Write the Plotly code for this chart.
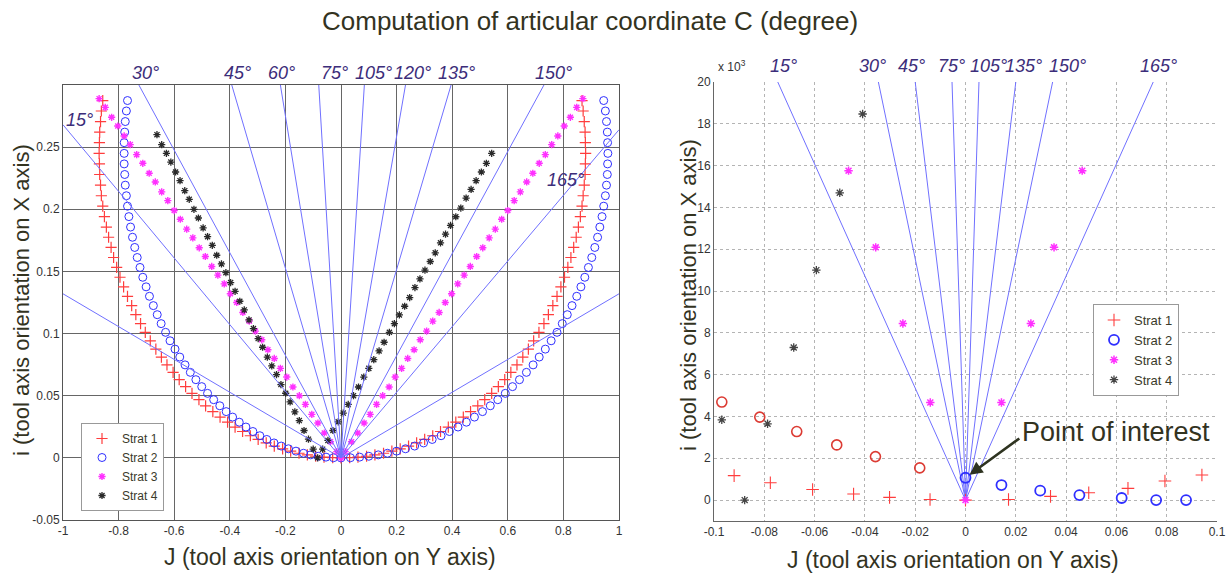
import math
import plotly.graph_objects as go

# ---------------- LEFT PANEL DATA (J, i) ----------------
# Strat 1 / Strat 2 curves: values read from centre outwards (shared i levels)
curve_i = [0.0001, 0.0006, 0.0013, 0.0024, 0.0037, 0.0054, 0.0073, 0.0095, 0.0120, 0.0148,
           0.0178, 0.0212, 0.0248, 0.0287, 0.0328, 0.0372, 0.0419, 0.0468, 0.0519, 0.0573,
           0.0629, 0.0688, 0.0748, 0.0811, 0.0875, 0.0942, 0.1010, 0.1080, 0.1152, 0.1225,
           0.1300, 0.1376, 0.1453, 0.1532, 0.1612, 0.1693, 0.1775, 0.1857, 0.1941, 0.2025,
           0.2109, 0.2194, 0.2280, 0.2365, 0.2450, 0.2536, 0.2621, 0.2706, 0.2791, 0.2875]
strat1_J_left = [-0.030, -0.061, -0.091, -0.121, -0.151, -0.181, -0.210, -0.240, -0.269, -0.298,
                 -0.326, -0.354, -0.381, -0.408, -0.435, -0.461, -0.487, -0.511, -0.536, -0.559,
                 -0.582, -0.604, -0.626, -0.646, -0.666, -0.686, -0.704, -0.721, -0.738, -0.753,
                 -0.768, -0.782, -0.795, -0.807, -0.818, -0.827, -0.836, -0.844, -0.851, -0.857,
                 -0.862, -0.865, -0.868, -0.869, -0.870, -0.869, -0.868, -0.865, -0.862, -0.857]
strat1_J_right = [0.031, 0.061, 0.092, 0.122, 0.153, 0.183, 0.213, 0.243, 0.272, 0.301,
                  0.330, 0.358, 0.386, 0.413, 0.440, 0.466, 0.492, 0.517, 0.542, 0.566,
                  0.589, 0.611, 0.633, 0.654, 0.674, 0.693, 0.712, 0.730, 0.746, 0.762,
                  0.777, 0.791, 0.804, 0.816, 0.827, 0.837, 0.846, 0.854, 0.861, 0.867,
                  0.871, 0.875, 0.878, 0.879, 0.880, 0.879, 0.878, 0.875, 0.871, 0.867]
strat2_J_left = [-0.027, -0.054, -0.082, -0.109, -0.135, -0.162, -0.189, -0.215, -0.241, -0.267,
                 -0.292, -0.317, -0.342, -0.366, -0.390, -0.413, -0.436, -0.458, -0.480, -0.501,
                 -0.522, -0.542, -0.561, -0.580, -0.597, -0.615, -0.631, -0.647, -0.661, -0.675,
                 -0.689, -0.701, -0.713, -0.723, -0.733, -0.742, -0.750, -0.757, -0.763, -0.768,
                 -0.772, -0.776, -0.778, -0.780, -0.780, -0.780, -0.778, -0.776, -0.772, -0.768]
strat2_J_right = [0.034, 0.067, 0.100, 0.134, 0.167, 0.200, 0.232, 0.265, 0.297, 0.328,
                  0.360, 0.390, 0.421, 0.451, 0.480, 0.509, 0.537, 0.564, 0.591, 0.617,
                  0.642, 0.667, 0.691, 0.713, 0.735, 0.756, 0.777, 0.796, 0.814, 0.831,
                  0.848, 0.863, 0.877, 0.890, 0.902, 0.913, 0.923, 0.931, 0.939, 0.945,
                  0.951, 0.955, 0.958, 0.959, 0.960, 0.959, 0.958, 0.955, 0.951, 0.945]

# Strat 3 (V from the origin)
strat3_J_left = [-0.015, -0.038, -0.060, -0.083, -0.105, -0.128, -0.150, -0.173, -0.195, -0.218,
                 -0.240, -0.263, -0.285, -0.308, -0.330, -0.353, -0.375, -0.398, -0.420, -0.443,
                 -0.465, -0.488, -0.510, -0.533, -0.555, -0.578, -0.600, -0.623, -0.645, -0.668,
                 -0.690, -0.713, -0.735, -0.758, -0.780, -0.803, -0.825, -0.848, -0.870]
strat3_J_right = [0.015, 0.038, 0.060, 0.083, 0.105, 0.128, 0.150, 0.173, 0.195, 0.218,
                  0.240, 0.263, 0.285, 0.308, 0.330, 0.353, 0.375, 0.398, 0.420, 0.443,
                  0.465, 0.488, 0.510, 0.533, 0.555, 0.578, 0.600, 0.623, 0.645, 0.668,
                  0.690, 0.713, 0.735, 0.758, 0.780, 0.803, 0.825, 0.848, 0.870]
strat3_i = [0.005, 0.013, 0.020, 0.028, 0.035, 0.043, 0.050, 0.057, 0.065, 0.072,
            0.080, 0.087, 0.095, 0.102, 0.110, 0.117, 0.125, 0.132, 0.140, 0.147,
            0.154, 0.162, 0.169, 0.177, 0.184, 0.192, 0.199, 0.207, 0.214, 0.222,
            0.229, 0.237, 0.244, 0.252, 0.259, 0.267, 0.274, 0.282, 0.289]

# Strat 4 (V from J = -0.084)
strat4_vertex = (-0.084, 0.0)
strat4_J_left = [-0.100, -0.117, -0.133, -0.150, -0.166, -0.183, -0.199, -0.216, -0.232, -0.249,
                 -0.265, -0.282, -0.298, -0.315, -0.331, -0.348, -0.364, -0.381, -0.397, -0.414,
                 -0.430, -0.447, -0.463, -0.480, -0.496, -0.513, -0.529, -0.546, -0.562, -0.579,
                 -0.595, -0.612, -0.628, -0.645, -0.662]
strat4_i_left = [0.007, 0.015, 0.022, 0.030, 0.037, 0.045, 0.052, 0.059, 0.067, 0.074,
                 0.081, 0.089, 0.096, 0.104, 0.111, 0.119, 0.126, 0.134, 0.141, 0.149,
                 0.156, 0.163, 0.171, 0.178, 0.185, 0.193, 0.200, 0.208, 0.215, 0.223,
                 0.230, 0.238, 0.245, 0.252, 0.260]
strat4_J_right = [-0.066, -0.047, -0.029, -0.010, 0.008, 0.026, 0.045, 0.063, 0.082, 0.100,
                  0.118, 0.137, 0.155, 0.174, 0.192, 0.210, 0.229, 0.247, 0.266, 0.284,
                  0.302, 0.321, 0.339, 0.358, 0.376, 0.394, 0.413, 0.431, 0.450, 0.468,
                  0.486, 0.505, 0.523, 0.542]
strat4_i_right = [0.007, 0.014, 0.022, 0.029, 0.036, 0.043, 0.050, 0.057, 0.065, 0.072,
                  0.079, 0.086, 0.093, 0.101, 0.108, 0.115, 0.122, 0.129, 0.137, 0.144,
                  0.151, 0.158, 0.165, 0.173, 0.180, 0.187, 0.194, 0.201, 0.209, 0.216,
                  0.223, 0.230, 0.237, 0.245]

# rays of the left panel: end points on the frame
left_ray_end_J = [-1.0, -1.0, -0.727, -0.393, -0.218, -0.080, 0.084, 0.232, 0.396, 0.730, 1.0, 1.0]
left_ray_end_i = [0.268, 0.132, 0.30, 0.30, 0.30, 0.30, 0.30, 0.30, 0.30, 0.30, 0.264, 0.132]
left_labels = ["15°", "30°", "45°", "60°", "75°", "105°", "120°", "135°", "150°", "165°"]
left_label_J = [-0.942, -0.702, -0.371, -0.215, -0.022, 0.116, 0.258, 0.415, 0.764, 0.807]
left_label_i = [0.272, 0.3095, 0.3095, 0.3095, 0.3095, 0.3095, 0.3095, 0.3095, 0.3095, 0.2235]

left_xticks = [-1, -0.8, -0.6, -0.4, -0.2, 0, 0.2, 0.4, 0.6, 0.8, 1]
left_xticktext = ["-1", "-0.8", "-0.6", "-0.4", "-0.2", "0", "0.2", "0.4", "0.6", "0.8", "1"]
left_yticks = [-0.05, 0, 0.05, 0.1, 0.15, 0.2, 0.25]
left_yticktext = ["-0.05", "0", "0.05", "0.1", "0.15", "0.2", "0.25"]

# ---------------- RIGHT PANEL DATA (J, i x 10^3) ----------------
r_strat1_J = [-0.092, -0.0776, -0.0608, -0.0445, -0.0302, -0.0141, 0.0, 0.0171, 0.0338, 0.049, 0.0646, 0.0793, 0.094]
r_strat1_i = [1.17, 0.83, 0.51, 0.29, 0.13, 0.03, 0.0, 0.03, 0.18, 0.35, 0.56, 0.91, 1.2]
r_strat2_J = [0.0, 0.0143, 0.0297, 0.0453, 0.0621, 0.0758, 0.0877]
r_strat2_i = [1.07, 0.72, 0.45, 0.24, 0.10, 0.0, 0.0]
r_strat3_J = [-0.0465, -0.0357, -0.0249, -0.014, 0.0, 0.0143, 0.026, 0.0352, 0.0464]
r_strat3_i = [15.76, 12.09, 8.45, 4.67, 0.0, 4.67, 8.45, 12.09, 15.76]
r_strat4_J = [-0.0969, -0.0878, -0.0787, -0.0683, -0.0593, -0.050, -0.0409]
r_strat4_i = [3.84, 0.0, 3.65, 7.3, 11.0, 14.7, 18.47]
r_extra_J = [-0.0969, -0.0818, -0.0671, -0.0512, -0.0358, -0.0182]
r_extra_i = [4.69, 3.97, 3.28, 2.64, 2.08, 1.54]

right_ray_angles = [15, 30, 45, 75, 105, 135, 150, 165]
right_labels = ["15°", "30°", "45°", "75°", "105°", "135°", "150°", "165°"]
right_label_J = [-0.0724, -0.0368, -0.0216, -0.0056, 0.0092, 0.0232, 0.0404, 0.0768]

right_xticks = [-0.1, -0.08, -0.06, -0.04, -0.02, 0, 0.02, 0.04, 0.06, 0.08, 0.1]
right_xticktext = ["-0.1", "-0.08", "-0.06", "-0.04", "-0.02", "0", "0.02", "0.04", "0.06", "0.08", "0.1"]
right_yticks = [0, 2, 4, 6, 8, 10, 12, 14, 16, 18, 20]
right_yticktext = ["0", "2", "4", "6", "8", "10", "12", "14", "16", "18", "20"]

series_names = ["Strat 1", "Strat 2", "Strat 3", "Strat 4"]

# ---------------- STYLE ----------------
W, H = 1231, 579
FONT = "Liberation Sans, Arial, sans-serif"
RED = "#ff3d3d"
BLUE = "#2f2fff"
MAG = "#ff30ff"
BLK = "#2a2a2a"
RAY = "#7070ff"
LBL = "#3c2d7a"
TXT = "#33331f"


def branch(left_J, left_i, right_J, right_i, centre):
    xs = list(reversed(left_J)) + [centre[0]] + list(right_J)
    ys = list(reversed(left_i)) + [centre[1]] + list(right_i)
    return xs, ys


fig = go.Figure()

marker_styles = [
    dict(symbol="cross-thin", size=8, color=RED, line=dict(color=RED, width=1.2)),
    dict(symbol="circle-open", size=8, color=BLUE, line=dict(color=BLUE, width=1)),
    dict(symbol="asterisk", size=6, color=MAG, line=dict(color=MAG, width=1.4)),
    dict(symbol="asterisk", size=6, color=BLK, line=dict(color=BLK, width=1.3)),
]

left_sets = [
    branch(strat1_J_left, curve_i, strat1_J_right, curve_i, (0.0, 0.0)),
    branch(strat2_J_left, curve_i, strat2_J_right, curve_i, (0.0, 0.0)),
    branch(strat3_J_left, strat3_i, strat3_J_right, strat3_i, (0.0, 0.0)),
    branch(strat4_J_left, strat4_i_left, strat4_J_right, strat4_i_right, strat4_vertex),
]
for name, (xs, ys), mk in zip(series_names, left_sets, marker_styles):
    fig.add_trace(go.Scatter(x=xs, y=ys, mode="markers", name=name, marker=mk,
                             xaxis="x", yaxis="y", legend="legend", hoverinfo="skip"))

rx, ry = [], []
for J, i in zip(left_ray_end_J, left_ray_end_i):
    rx += [0, J, None]
    ry += [0, i, None]
fig.add_trace(go.Scatter(x=rx, y=ry, mode="lines", line=dict(color=RAY, width=1),
                         showlegend=False, xaxis="x", yaxis="y", hoverinfo="skip"))

# right panel
rx, ry = [], []
top_i = 21.0
for a in right_ray_angles:
    rx += [0, -top_i * 1e-3 / math.tan(math.radians(a)), None]
    ry += [0, top_i, None]
fig.add_trace(go.Scatter(x=rx, y=ry, mode="lines", line=dict(color=RAY, width=1),
                         showlegend=False, xaxis="x2", yaxis="y2", hoverinfo="skip"))

fig.add_trace(go.Scatter(x=r_extra_J, y=r_extra_i, mode="markers", showlegend=False,
                         marker=dict(symbol="circle-open", size=10, color="#dc3b33",
                                     line=dict(color="#dc3b33", width=1.6)),
                         xaxis="x2", yaxis="y2", hoverinfo="skip"))

right_marker_styles = [
    dict(symbol="cross-thin", size=9, color=RED, line=dict(color=RED, width=1.1)),
    dict(symbol="circle-open", size=10, color=BLUE, line=dict(color=BLUE, width=1.8)),
    dict(symbol="asterisk", size=7, color=MAG, line=dict(color=MAG, width=1.5)),
    dict(symbol="asterisk", size=7, color=BLK, line=dict(color="#444444", width=1.3)),
]
right_sets = [(r_strat1_J, r_strat1_i), (r_strat2_J, r_strat2_i),
              (r_strat3_J, r_strat3_i), (r_strat4_J, r_strat4_i)]
for name, (xs, ys), mk in zip(series_names, right_sets, right_marker_styles):
    fig.add_trace(go.Scatter(x=xs, y=ys, mode="markers", name=name, marker=mk,
                             xaxis="x2", yaxis="y2", legend="legend2", hoverinfo="skip"))

# ---------------- AXES GEOMETRY ----------------
L_DOM_X = [63 / W, 619 / W]
L_DOM_Y = [1 - 520 / H, 1 - 85 / H]
L_RANGE_Y = [-0.05, 0.30]
R_DOM_X = [714 / W, 1217 / W]
R_DOM_Y = [1 - 521 / H, 1 - 82 / H]
R_RANGE_Y = [-1, 20]


def y_to_paper(v, dom, rng):
    return dom[0] + (v - rng[0]) / (rng[1] - rng[0]) * (dom[1] - dom[0])


# ---------------- ANNOTATIONS ----------------
ann = []
for t, J, i in zip(left_labels, left_label_J, left_label_i):
    ann.append(dict(x=J, y=y_to_paper(i, L_DOM_Y, L_RANGE_Y), xref="x", yref="paper",
                    text="<i>" + t + "</i>", showarrow=False,
                    font=dict(family=FONT, size=18, color=LBL), xanchor="center", yanchor="middle"))
for t, J in zip(right_labels, right_label_J):
    ann.append(dict(x=J, y=1 - 66 / H, xref="x2", yref="paper",
                    text="<i>" + t + "</i>", showarrow=False,
                    font=dict(family=FONT, size=18, color=LBL), xanchor="center", yanchor="middle"))

ann.append(dict(x=590 / W, y=1 - 21 / H, xref="paper", yref="paper",
                text="Computation of articular coordinate C (degree)", showarrow=False,
                font=dict(family=FONT, size=26, color=TXT), xanchor="center", yanchor="middle"))
ann.append(dict(x=330 / W, y=1 - 557 / H, xref="paper", yref="paper",
                text="J (tool axis orientation on Y axis)", showarrow=False,
                font=dict(family=FONT, size=23, color=TXT), xanchor="center", yanchor="middle"))
ann.append(dict(x=953 / W, y=1 - 560 / H, xref="paper", yref="paper",
                text="J (tool axis orientation on Y axis)", showarrow=False,
                font=dict(family=FONT, size=23, color=TXT), xanchor="center", yanchor="middle"))
ann.append(dict(x=21 / W, y=1 - 300 / H, xref="paper", yref="paper", textangle=-90,
                text="i (tool axis orientation on X axis)", showarrow=False,
                font=dict(family=FONT, size=22, color=TXT), xanchor="center", yanchor="middle"))
ann.append(dict(x=688 / W, y=1 - 295 / H, xref="paper", yref="paper", textangle=-90,
                text="i (tool axis orientation on X axis)", showarrow=False,
                font=dict(family=FONT, size=22, color=TXT), xanchor="center", yanchor="middle"))
ann.append(dict(x=716 / W, y=1 - 66 / H, xref="paper", yref="paper",
                text="x 10<sup>3</sup>", showarrow=False,
                font=dict(family=FONT, size=12, color="#333333"), xanchor="left", yanchor="middle"))
# point of interest (arrow to the Strat 2 point at J = 0)
ann.append(dict(x=r_strat2_J[0], y=r_strat2_i[0], xref="x2", yref="y2",
                ax=0.022, ay=3.0, axref="x2", ayref="y2", text="", showarrow=True,
                arrowhead=2, arrowsize=1, arrowwidth=2.6, arrowcolor="#2e3320", standoff=5))
ann.append(dict(x=1116 / W, y=1 - 432 / H, xref="paper", yref="paper",
                text="Point of interest", showarrow=False,
                font=dict(family=FONT, size=27, color=TXT), xanchor="center", yanchor="middle"))

tickfont = dict(family=FONT, size=12, color="#333333")
common_left = dict(showgrid=True, gridcolor="#666666", gridwidth=1.3, zeroline=False,
                   showline=True, linecolor="#555555", linewidth=1, mirror=True, ticks="",
                   tickfont=tickfont, automargin=False)
common_right = dict(showgrid=True, gridcolor="#b4b4b4", gridwidth=1, griddash="dot", zeroline=False,
                    showline=True, linecolor="#666666", linewidth=1, mirror=False, ticks="",
                    tickfont=tickfont, automargin=False)

fig.update_layout(
    width=W, height=H, margin=dict(l=0, r=0, t=0, b=0, pad=0, autoexpand=False),
    paper_bgcolor="white", plot_bgcolor="white",
    font=dict(family=FONT, size=11, color="#333333"),
    xaxis=dict(domain=L_DOM_X, range=[-1, 1], tickvals=left_xticks,
               ticktext=left_xticktext, anchor="y", **common_left),
    yaxis=dict(domain=L_DOM_Y, range=L_RANGE_Y, tickvals=left_yticks,
               ticktext=left_yticktext, anchor="x", **common_left),
    xaxis2=dict(domain=R_DOM_X, range=[-0.1, 0.1], tickvals=right_xticks,
                ticktext=right_xticktext, anchor="y2", **common_right),
    yaxis2=dict(domain=R_DOM_Y, range=R_RANGE_Y, tickvals=right_yticks,
                ticktext=right_yticktext, anchor="x2", **common_right),
    legend=dict(x=81 / W, y=1 - 423 / H, xanchor="left", yanchor="top",
                bgcolor="white", bordercolor="#999999", borderwidth=1,
                font=dict(family=FONT, size=12, color="#3a3a2a"), itemwidth=30, tracegroupgap=0),
    legend2=dict(x=1093 / W, y=1 - 304 / H, xanchor="left", yanchor="top",
                 bgcolor="white", bordercolor="#999999", borderwidth=1,
                 font=dict(family=FONT, size=13, color="#3a3a2a"), itemwidth=30, tracegroupgap=0),
    annotations=ann,
    showlegend=True,
)

fig.write_html("out.html", config={"displayModeBar": False},
               post_script="document.body.style.margin='0';document.body.style.padding='0';")
